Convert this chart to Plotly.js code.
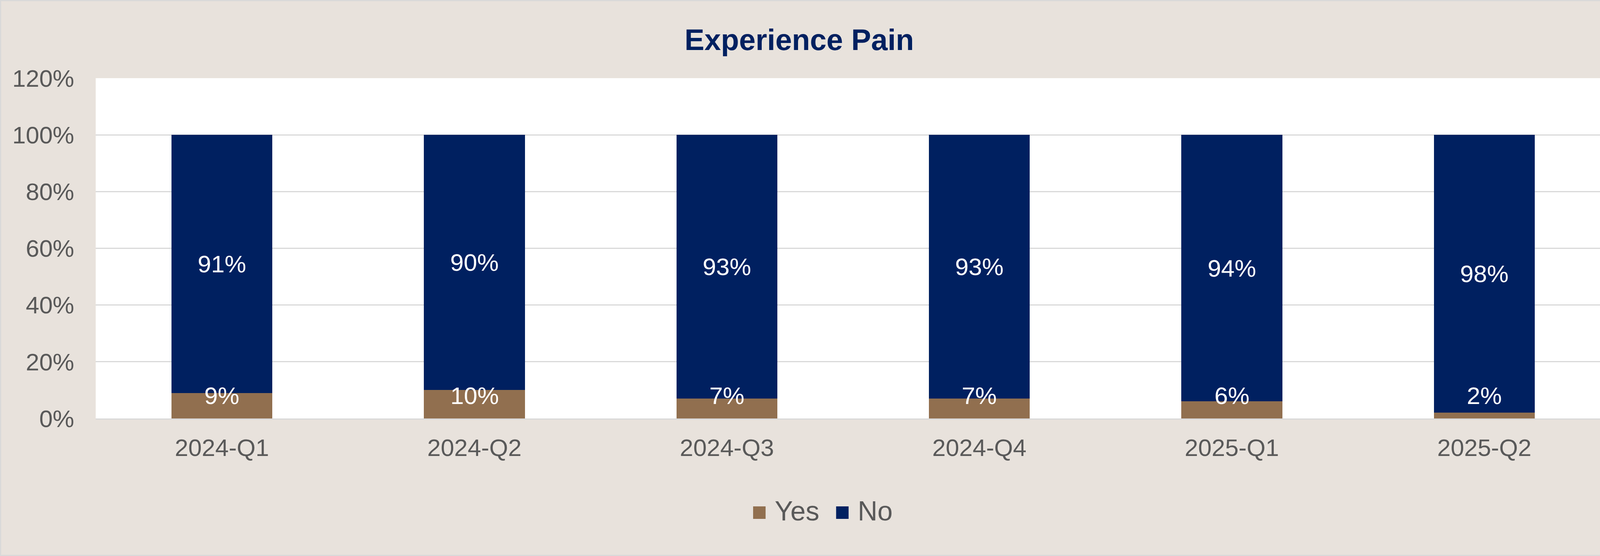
<!DOCTYPE html>
<html>
<head>
<meta charset="utf-8">
<script src="https://cdn.plot.ly/plotly-3.0.1.min.js"></script>
<style>
    html, body { margin: 0; padding: 0; background: #E8E2DC; }
    #chart {
        width: 4174px;
        height: 1423px;
        box-sizing: border-box;
        border: 3px solid #D9D9D9;
    }
</style>
</head>
<body>
<div id="chart"></div>
<script>
// data
const quarters = ['2024-Q1', '2024-Q2', '2024-Q3', '2024-Q4', '2025-Q1', '2025-Q2'];
const yesPct = [9, 10, 7, 7, 6, 2];
const noPct = [91, 90, 93, 93, 94, 98];
const yTicks = [0, 20, 40, 60, 80, 100, 120];

const YES_COLOR = '#916F4F';
const NO_COLOR = '#002060';
const FONT = 'Arial, "Liberation Sans", sans-serif';
const GREY = '#595959';

const traces = [
    {
        type: 'bar',
        name: 'Yes',
        x: quarters,
        y: yesPct,
        marker: { color: YES_COLOR },
        textposition: 'none',
        showlegend: false,
        hoverinfo: 'skip',
    },
    {
        type: 'bar',
        name: 'No',
        x: quarters,
        y: noPct,
        marker: { color: NO_COLOR },
        text: noPct.map((v) => v + '%'),
        textposition: 'inside',
        insidetextanchor: 'middle',
        textangle: 0,
        constraintext: 'none',
        textfont: { family: FONT, size: 62, color: '#FFFFFF' },
        showlegend: false,
        hoverinfo: 'skip',
    },
];

// Yes labels: excel keeps them inside the plot bottom when the segment is thin
const annotations = quarters.map((q, i) => ({
    x: q,
    y: Math.max(yesPct[i] / 2, 8),
    xref: 'x',
    yref: 'y',
    text: yesPct[i] + '%',
    showarrow: false,
    font: { family: FONT, size: 62, color: '#FFFFFF' },
}));

// legend drawn as text so the swatches can be as big as in the original
const nb = '\u00a0';
const swatch = (c) => '<span style="color:' + c + ';font-size:66px">\u25A0</span>';
annotations.push({
    xref: 'paper',
    yref: 'paper',
    x: 0.4795,
    y: -0.272,
    xanchor: 'center',
    yanchor: 'middle',
    showarrow: false,
    text: swatch(YES_COLOR) + nb + 'Yes' + nb + nb + swatch(NO_COLOR) + nb + 'No',
    font: { family: FONT, size: 70, color: GREY },
});

const layout = {
    width: 4168,
    height: 1417,
    paper_bgcolor: '#E8E2DC',
    plot_bgcolor: '#FFFFFF',
    margin: { l: 242, r: 48, t: 197, b: 349, pad: 0 },
    barmode: 'stack',
    bargap: 0.6,
    showlegend: false,
    title: {
        text: '<b>Experience Pain</b>',
        font: { family: FONT, size: 76, color: NO_COLOR },
        x: 0.4902,
        xanchor: 'center',
        y: 0.9308,
        yanchor: 'middle',
    },
    xaxis: {
        type: 'category',
        tickfont: { family: FONT, size: 62, color: GREY },
        ticks: '',
        showgrid: false,
        showline: true,
        linecolor: '#D9D9D9',
        linewidth: 3,
        ticklabelstandoff: 19,
        fixedrange: true,
    },
    yaxis: {
        range: [0, 120],
        tickvals: yTicks,
        ticktext: yTicks.map((v) => v + '%'),
        tickfont: { family: FONT, size: 62, color: GREY },
        ticks: '',
        showgrid: true,
        gridcolor: '#D9D9D9',
        gridwidth: 3,
        zeroline: false,
        showline: false,
        ticklabelstandoff: 54,
        fixedrange: true,
    },
    annotations: annotations,
};

Plotly.newPlot('chart', traces, layout, { staticPlot: true, displayModeBar: false });
</script>
</body>
</html>
